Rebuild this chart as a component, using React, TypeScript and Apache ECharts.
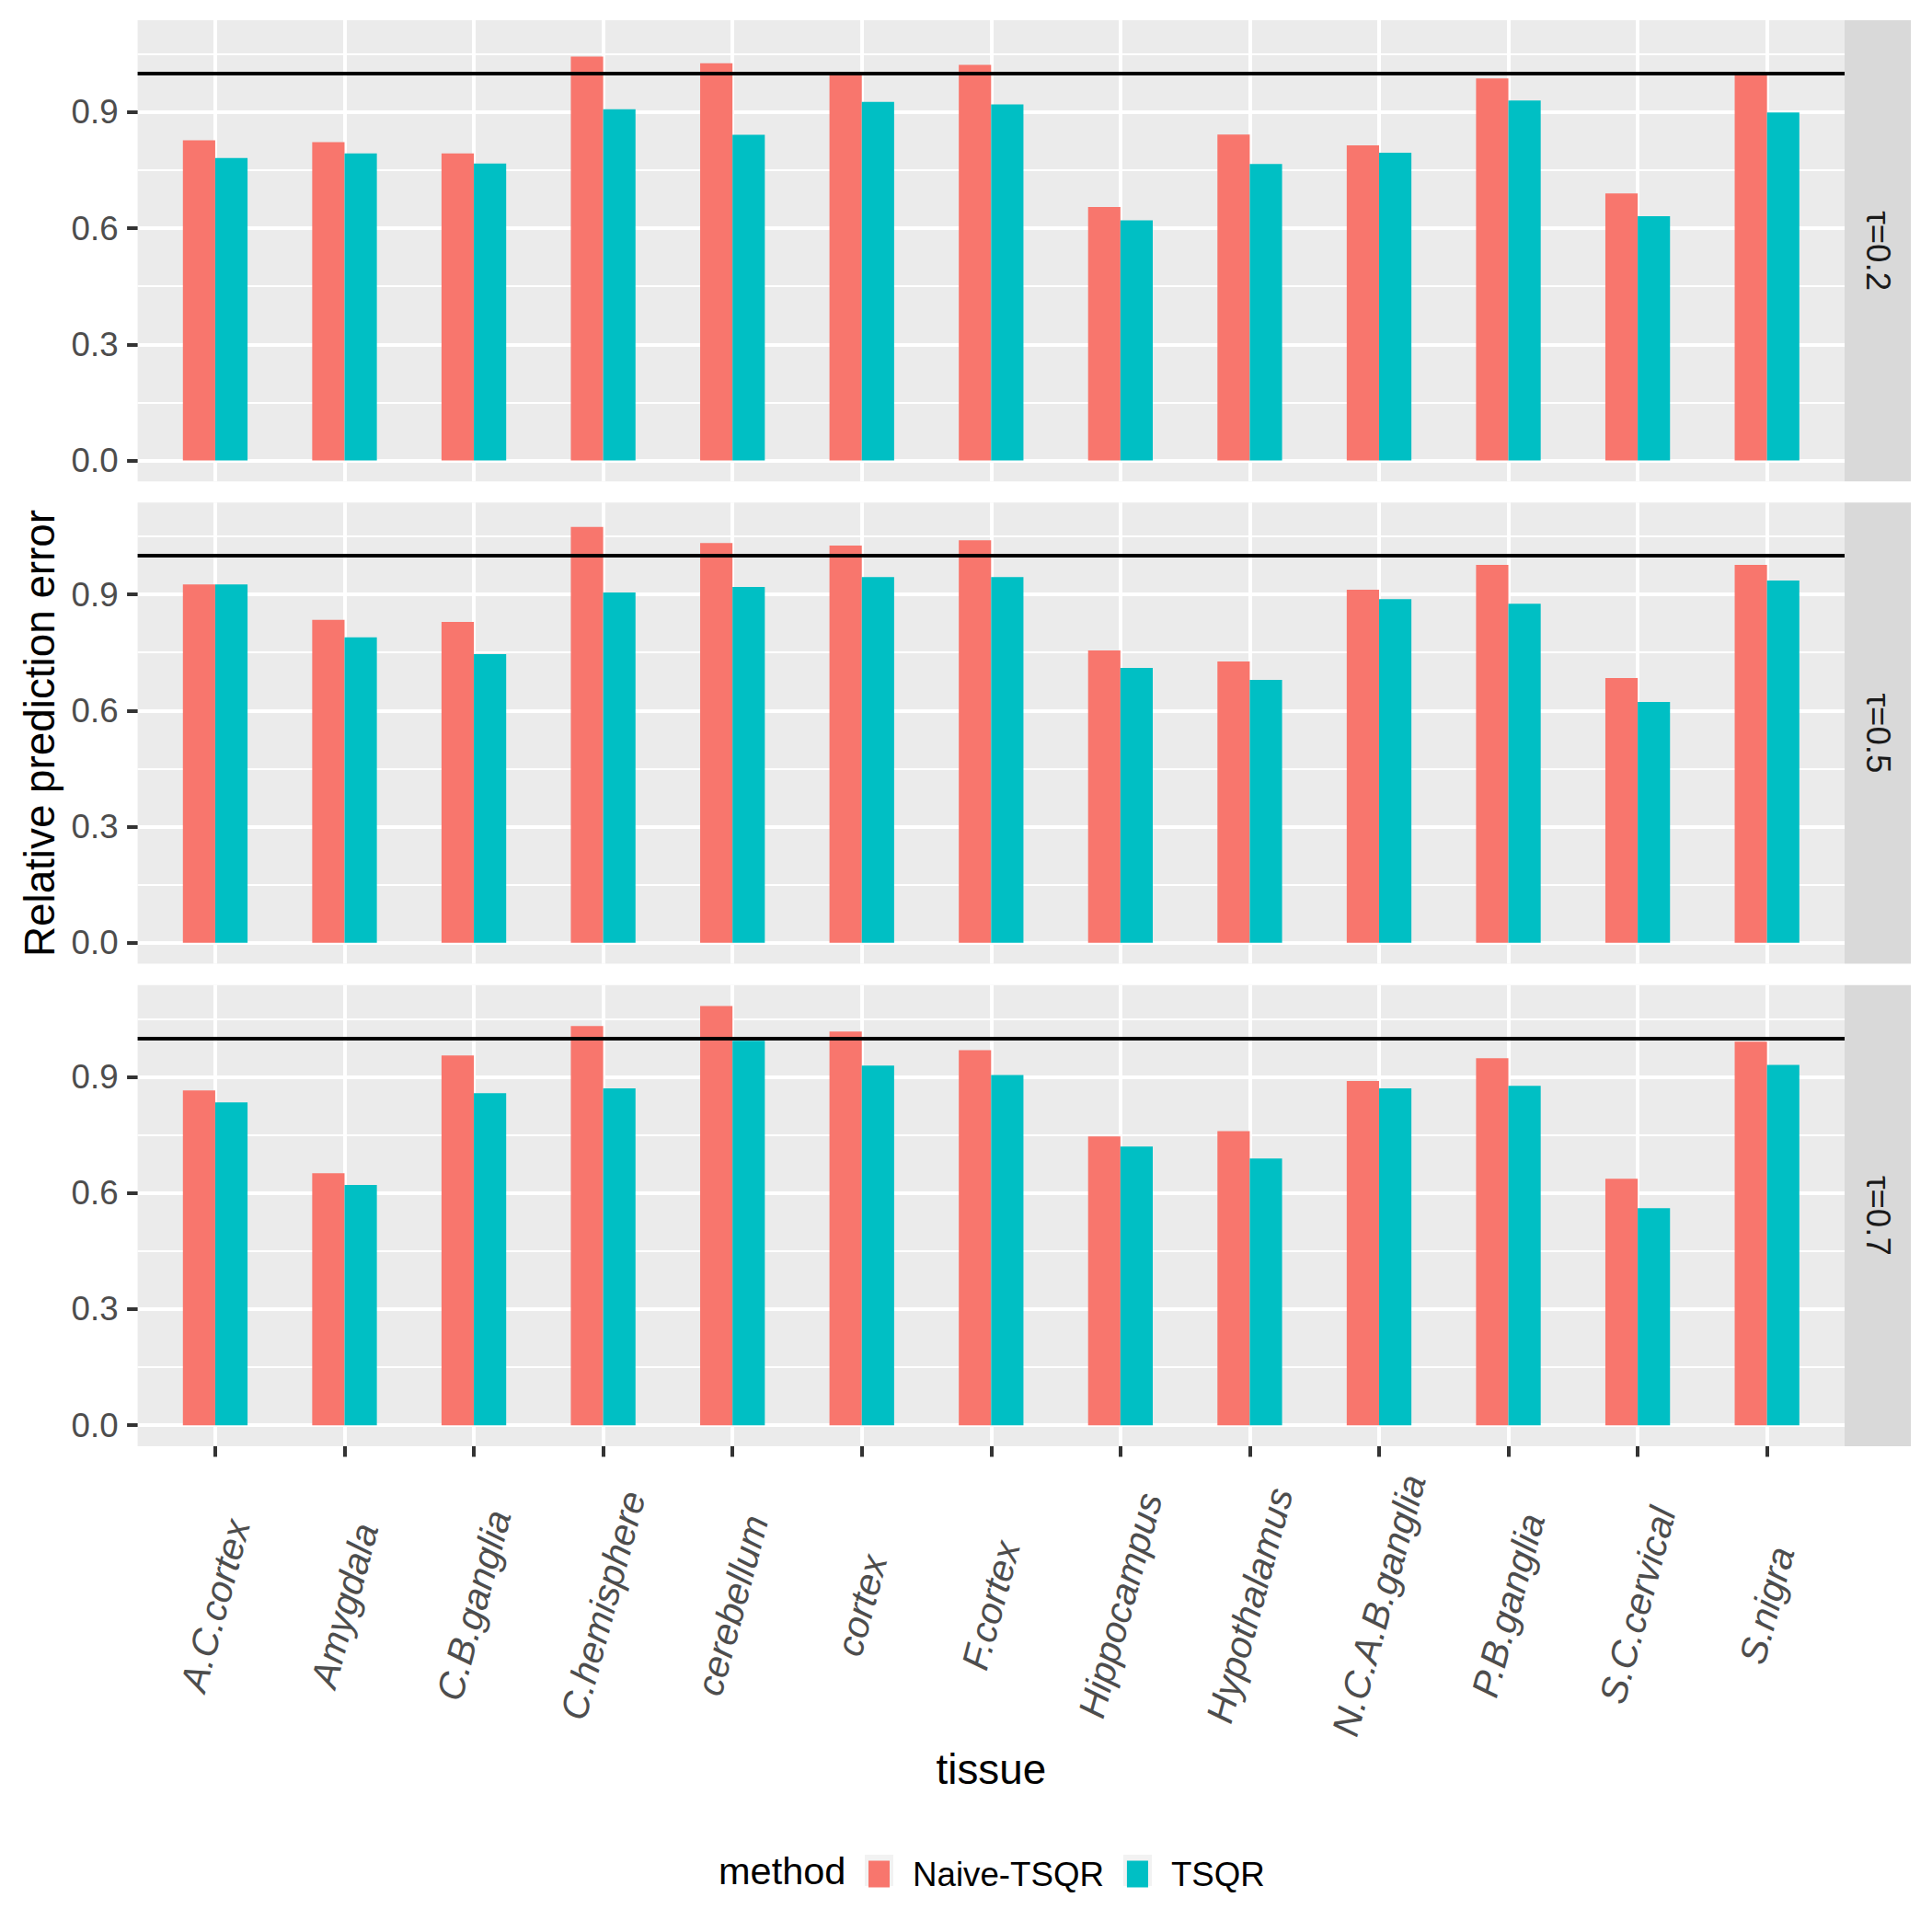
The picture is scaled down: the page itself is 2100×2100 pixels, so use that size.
import React, { useEffect, useRef } from "react";
import * as echarts from "echarts";

const tissues = [
  "A.C.cortex", "Amygdala", "C.B.ganglia", "C.hemisphere", "cerebellum", "cortex",
  "F.cortex", "Hippocampus", "Hypothalamus", "N.C.A.B.ganglia", "P.B.ganglia",
  "S.C.cervical", "S.nigra",
];
const methods = ["Naive-TSQR", "TSQR"];
const panelLabels = ["τ=0.2", "τ=0.5", "τ=0.7"];

const naive02 = [0.827, 0.822, 0.793, 1.043, 1.026, 1.0, 1.022, 0.655, 0.842, 0.814, 0.987, 0.69, 0.998];
const tsqr02 = [0.781, 0.793, 0.767, 0.907, 0.841, 0.926, 0.92, 0.62, 0.766, 0.795, 0.93, 0.631, 0.899];
const naive05 = [0.926, 0.834, 0.829, 1.074, 1.033, 1.026, 1.04, 0.755, 0.727, 0.912, 0.976, 0.684, 0.976];
const tsqr05 = [0.926, 0.789, 0.746, 0.905, 0.919, 0.945, 0.945, 0.71, 0.679, 0.888, 0.876, 0.622, 0.936];
const naive07 = [0.865, 0.651, 0.955, 1.031, 1.083, 1.017, 0.969, 0.746, 0.76, 0.889, 0.948, 0.637, 0.991];
const tsqr07 = [0.834, 0.621, 0.858, 0.87, 0.993, 0.929, 0.905, 0.72, 0.689, 0.87, 0.877, 0.561, 0.931];

const refLine = 1.0;
const yMajor = [0, 0.3, 0.6, 0.9];
const yMinor = [0.15, 0.45, 0.75, 1.05];

const panels = [
  [naive02, tsqr02],
  [naive05, tsqr05],
  [naive07, tsqr07],
];

const colors = ["#F8766D", "#00BFC4"];
const FONT = "'Liberation Sans', Arial, Helvetica, sans-serif";

export default function App() {
  const ref = useRef<HTMLDivElement>(null);

  useEffect(() => {
    if (!ref.current) return;
    const chart = echarts.init(ref.current, null, { renderer: "svg", width: 2100, height: 2100 });

    const panelLeft = 149.6;
    const panelRight = 2005;
    const stripRight = 2077;
    const panelTops = [22, 546.3, 1070.7];
    const panelH = 501.3;

    const xMin = 0.4;
    const xMax = tissues.length + 0.6;
    const unitPx = (panelRight - panelLeft) / (xMax - xMin);
    const barWidth = unitPx * 0.25;

    const allVals = panels.flat(2);
    const M = Math.max(refLine, ...allVals);
    const yMin = -0.05 * M;
    const yMax = 1.05 * M;

    const xPositions = tissues.map((_, i) => i + 1);

    const grids: any[] = [];
    const xAxes: any[] = [];
    const yAxes: any[] = [];
    const series: any[] = [];
    const graphics: any[] = [];

    panels.forEach((pvals, p) => {
      const isBottom = p === panels.length - 1;
      grids.push({
        left: panelLeft,
        top: panelTops[p],
        width: panelRight - panelLeft,
        height: panelH,
        show: true,
        backgroundColor: "#EBEBEB",
        borderWidth: 0,
        containLabel: false,
      });
      xAxes.push({
        type: "value",
        gridIndex: p,
        position: "bottom",
        min: xMin,
        max: xMax,
        axisLine: { show: false, onZero: false },
        splitLine: { show: false },
        axisTick: {
          show: isBottom,
          customValues: xPositions,
          length: 11.5,
          lineStyle: { color: "#333333", width: 4 },
        },
        axisLabel: {
          show: isBottom,
          customValues: xPositions,
          formatter: (v: number) => tissues[Math.round(v) - 1] ?? "",
          rotate: 75,
          align: "center",
          verticalAlign: "middle",
          margin: 173,
          fontSize: 41,
          fontStyle: "italic",
          color: "#4D4D4D",
          fontFamily: FONT,
        },
      });
      yAxes.push({
        type: "value",
        gridIndex: p,
        position: "left",
        min: yMin,
        max: yMax,
        axisLine: { show: false, onZero: false },
        splitLine: { show: false },
        axisTick: {
          show: true,
          customValues: yMajor,
          length: 11.5,
          lineStyle: { color: "#333333", width: 4 },
        },
        axisLabel: {
          show: true,
          customValues: yMajor,
          formatter: (v: number) => v.toFixed(1),
          margin: 21,
          fontSize: 36.7,
          color: "#4D4D4D",
          fontFamily: FONT,
        },
      });

      // grid lines (under bars)
      const gridLineData: any[] = [];
      yMinor.forEach((v) => gridLineData.push({ yAxis: v, lineStyle: { width: 2, color: "#FFFFFF", type: "solid" } }));
      yMajor.forEach((v) => gridLineData.push({ yAxis: v, lineStyle: { width: 4, color: "#FFFFFF", type: "solid" } }));
      xPositions.forEach((v) => gridLineData.push({ xAxis: v, lineStyle: { width: 4, color: "#FFFFFF", type: "solid" } }));
      series.push({
        type: "line",
        name: "grid" + p,
        xAxisIndex: p,
        yAxisIndex: p,
        data: [],
        z: 0,
        silent: true,
        markLine: {
          z: 0,
          symbol: ["none", "none"],
          silent: true,
          animation: false,
          label: { show: false },
          emphasis: { disabled: true },
          data: gridLineData,
        },
      });

      pvals.forEach((vals, m) => {
        series.push({
          type: "bar",
          name: methods[m],
          xAxisIndex: p,
          yAxisIndex: p,
          data: vals.map((v, i) => [xPositions[i], v]),
          barWidth: barWidth,
          barGap: "0%",
          itemStyle: { color: colors[m] },
          z: 2,
          silent: true,
        });
      });

      series.push({
        type: "line",
        name: "ref" + p,
        xAxisIndex: p,
        yAxisIndex: p,
        data: [],
        z: 5,
        silent: true,
        markLine: {
          z: 5,
          symbol: ["none", "none"],
          silent: true,
          animation: false,
          label: { show: false },
          emphasis: { disabled: true },
          data: [{ yAxis: refLine, lineStyle: { width: 4, color: "#000000", type: "solid" } }],
        },
      });

      // strip
      graphics.push({
        type: "rect",
        shape: { x: panelRight, y: panelTops[p], width: stripRight - panelRight, height: panelH },
        style: { fill: "#D9D9D9" },
        silent: true,
      });
      graphics.push({
        type: "text",
        x: (panelRight + stripRight) / 2,
        y: panelTops[p] + panelH / 2,
        rotation: -Math.PI / 2,
        style: {
          text: panelLabels[p],
          fontSize: 36.7,
          fill: "#1A1A1A",
          fontFamily: FONT,
          align: "center",
          verticalAlign: "middle",
        },
        silent: true,
      });
    });

    // axis titles
    graphics.push({
      type: "text",
      x: 43,
      y: (panelTops[0] + panelTops[2] + panelH) / 2,
      rotation: Math.PI / 2,
      style: {
        text: "Relative prediction error",
        fontSize: 45.8,
        fill: "#000000",
        fontFamily: FONT,
        align: "center",
        verticalAlign: "middle",
      },
      silent: true,
    });
    graphics.push({
      type: "text",
      x: (panelLeft + panelRight) / 2,
      y: 1923,
      style: {
        text: "tissue",
        fontSize: 45.8,
        fill: "#000000",
        fontFamily: FONT,
        align: "center",
        verticalAlign: "middle",
      },
      silent: true,
    });
    // legend title and key backgrounds
    const legendCY = 2033;
    const legendLeft = 944;
    graphics.push({
      type: "text",
      x: 781,
      y: legendCY,
      style: {
        text: "method",
        fontSize: 41.5,
        fill: "#000000",
        fontFamily: FONT,
        align: "left",
        verticalAlign: "middle",
      },
      silent: true,
    });
    [legendLeft - 4, legendLeft + 277].forEach((kx) => {
      graphics.push({
        type: "rect",
        z: -1,
        shape: { x: kx, y: legendCY - 17, width: 31, height: 34 },
        style: { fill: "#F2F2F2" },
        silent: true,
      });
    });

    chart.setOption({
      animation: false,
      backgroundColor: "#FFFFFF",
      textStyle: { fontFamily: FONT },
      grid: grids,
      xAxis: xAxes,
      yAxis: yAxes,
      series,
      legend: {
        data: methods,
        orient: "horizontal",
        left: legendLeft,
        top: legendCY - 14.5,
        padding: 0,
        itemWidth: 23,
        itemHeight: 29,
        itemGap: 25,
        icon: "rect",
        selectedMode: false,
        textStyle: {
          fontSize: 36.7,
          color: "#000000",
          fontFamily: FONT,
          padding: [0, 0, 0, 20],
          lineHeight: 29,
        },
      },
      graphic: graphics,
    });

    return () => {
      chart.dispose();
    };
  }, []);

  return (
    <div
      ref={ref}
      style={{ position: "absolute", left: 0, top: 0, width: 2100, height: 2100, background: "#FFFFFF" }}
    />
  );
}
